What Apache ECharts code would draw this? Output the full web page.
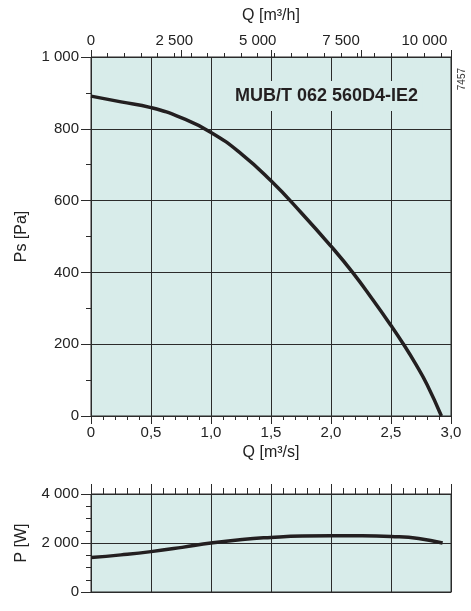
<!DOCTYPE html>
<html>
<head>
<meta charset="utf-8">
<script src="https://cdn.jsdelivr.net/npm/echarts@6/dist/echarts.min.js"></script>
<style>
html,body{margin:0;padding:0;background:#fff;}
#c{width:471px;height:611px;}
</style>
</head>
<body>
<div id="c"></div>
<script>
// Pressure curve: Q [m³/s] vs Ps [Pa]
const psQ  = [0, 0.25, 0.5, 0.75, 1.0, 1.25, 1.5, 1.75, 2.0, 2.18, 2.35, 2.5, 2.6, 2.7, 2.8, 2.92];
const psVal = [891, 875, 859, 831, 790, 731, 655, 567, 473, 400, 323, 252, 202, 148, 88, 0];
// Power curve: Q [m³/s] vs P [W]
const pQ  = [0, 0.25, 0.5, 0.76, 1.0, 1.26, 1.5, 1.76, 2.0, 2.26, 2.5, 2.73, 2.93];
const pVal = [1405, 1515, 1648, 1822, 2000, 2146, 2227, 2283, 2295, 2295, 2267, 2186, 2000];
// Tick settings
const qhLabels = [0, 2500, 5000, 7500, 10000];
const modelName = 'MUB/T 062 560D4-IE2';
const codeText = '7457';

const FONT = '"Liberation Sans", Arial, sans-serif';
const TXT = '#222';
const LINE = '#2b2b2b';
const BG = '#d8ecea';

function thou(v){ return String(Math.round(v)).replace(/\B(?=(\d{3})+(?!\d))/g, ' '); }
function qFmt(v){ return v === 0 ? '0' : v.toFixed(1).replace('.', ','); }

const chart = echarts.init(document.getElementById('c'), null, {renderer:'canvas'});
chart.setOption({
  animation:false,
  backgroundColor:'#fff',
  title:{
    text: modelName, left: 231, top: 81,
    backgroundColor: BG, padding:[6,4,6,4],
    textStyle:{fontFamily:FONT, fontSize:18, fontWeight:'bold', color:'#231f20'}
  },
  graphic:[{
    type:'text', left: 457, top: 68, rotation: Math.PI/2,
    style:{text: codeText, fontFamily:FONT, fontSize:10, fill:'#333'}
  }],
  grid:[
    {left:91, width:360, top:57, height:359, show:true, backgroundColor:BG, borderColor:LINE, borderWidth:1},
    {left:91, width:360, top:494, height:98, show:true, backgroundColor:BG, borderColor:LINE, borderWidth:1}
  ],
  xAxis:[
    {
      type:'value', gridIndex:0, position:'bottom', min:0, max:3, interval:0.5,
      name:'Q [m³/s]', nameLocation:'middle', nameGap:28,
      nameTextStyle:{fontFamily:FONT, fontSize:16, color:TXT},
      axisLine:{show:true, lineStyle:{color:LINE, width:1}},
      axisTick:{show:true, inside:false, length:8, lineStyle:{color:LINE}},
      minorTick:{show:true, splitNumber:5, length:4, lineStyle:{color:LINE}},
      axisLabel:{fontFamily:FONT, fontSize:15, color:TXT, margin:9, formatter:qFmt},
      splitLine:{show:true, lineStyle:{color:LINE, width:1}}
    },
    {
      type:'value', gridIndex:0, position:'top', min:0, max:10800, interval:500,
      name:'Q [m³/h]', nameLocation:'middle', nameGap:33,
      nameTextStyle:{fontFamily:FONT, fontSize:16, color:TXT},
      axisLine:{show:true, lineStyle:{color:LINE, width:1}},
      axisTick:{show:true, inside:false, length:4, lineStyle:{color:LINE}},
      axisLabel:{fontFamily:FONT, fontSize:15, color:TXT, margin:9,
        formatter:function(v){ return qhLabels.indexOf(v) >= 0 ? thou(v) : ''; }},
      splitLine:{show:false}
    },
    {
      type:'value', gridIndex:0, position:'top', min:0, max:10000, interval:2500,
      axisLine:{show:false},
      axisTick:{show:true, inside:false, length:7, lineStyle:{color:LINE}},
      axisLabel:{show:false}, splitLine:{show:false}
    },
    {
      type:'value', gridIndex:1, position:'bottom', min:0, max:3, interval:0.5,
      axisLine:{show:true, lineStyle:{color:LINE}},
      axisTick:{show:false}, axisLabel:{show:false},
      splitLine:{show:true, lineStyle:{color:LINE, width:1}}
    },
    {
      type:'value', gridIndex:1, position:'top', min:0, max:3, interval:0.5,
      axisLine:{show:true, lineStyle:{color:LINE}},
      axisTick:{show:true, inside:false, length:10, lineStyle:{color:LINE}},
      minorTick:{show:true, splitNumber:5, length:6, lineStyle:{color:LINE}},
      axisLabel:{show:false}, splitLine:{show:false}
    }
  ],
  yAxis:[
    {
      type:'value', gridIndex:0, min:0, max:1000, interval:200,
      name:'Ps [Pa]', nameLocation:'middle', nameGap:61, nameRotate:90,
      nameTextStyle:{fontFamily:FONT, fontSize:16, color:TXT},
      axisLine:{show:true, lineStyle:{color:LINE}},
      axisTick:{show:true, inside:false, length:10, lineStyle:{color:LINE}},
      minorTick:{show:true, splitNumber:2, length:5, lineStyle:{color:LINE}},
      axisLabel:{fontFamily:FONT, fontSize:15, color:TXT, margin:12, formatter:thou},
      splitLine:{show:true, lineStyle:{color:LINE, width:1}}
    },
    {
      type:'value', gridIndex:1, min:0, max:4000, interval:2000,
      name:'P [W]', nameLocation:'middle', nameGap:61, nameRotate:90,
      nameTextStyle:{fontFamily:FONT, fontSize:16, color:TXT},
      axisLine:{show:true, lineStyle:{color:LINE}},
      axisTick:{show:true, inside:false, length:10, lineStyle:{color:LINE}},
      minorTick:{show:true, splitNumber:4, length:5, lineStyle:{color:LINE}},
      axisLabel:{fontFamily:FONT, fontSize:15, color:TXT, margin:12, formatter:thou},
      splitLine:{show:true, lineStyle:{color:LINE, width:1}}
    }
  ],
  series:[
    {
      type:'line', xAxisIndex:0, yAxisIndex:0, smooth:0.5, symbol:'none',
      lineStyle:{color:'#231f20', width:3.5},
      data: psQ.map((q,i)=>[q, psVal[i]]), z:5
    },
    {
      type:'line', xAxisIndex:3, yAxisIndex:1, smooth:0.5, symbol:'none',
      lineStyle:{color:'#231f20', width:3.5},
      data: pQ.map((q,i)=>[q, pVal[i]]), z:5
    }
  ]
});
</script>
</body>
</html>
